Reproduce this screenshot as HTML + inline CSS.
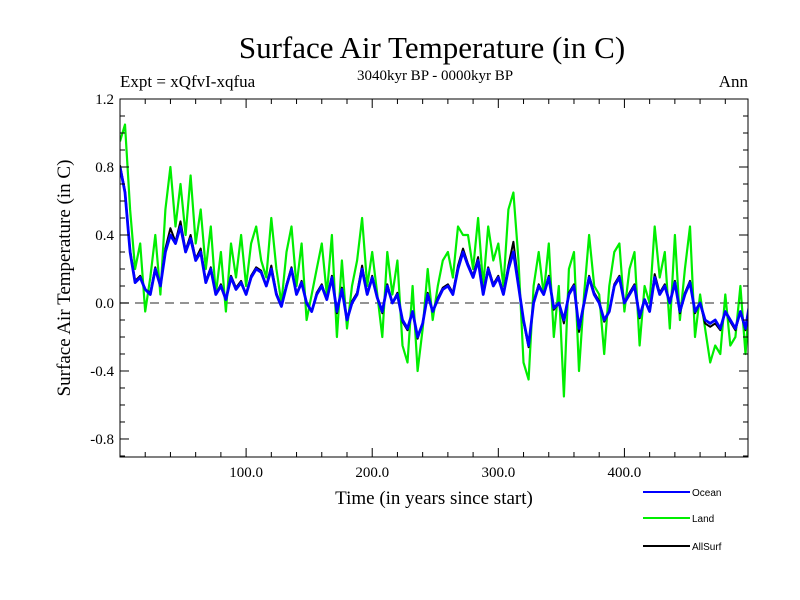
<!DOCTYPE html>
<html><head><meta charset="utf-8"><style>
body{margin:0;background:#fff;}
svg{display:block;}
text{font-family:"Liberation Serif",serif;fill:#000;}
</style></head><body>
<svg id="chart" width="800" height="600">
<text x="432" y="58" font-size="31" text-anchor="middle">Surface Air Temperature (in C)</text>
<text x="120" y="87" font-size="17">Expt = xQfvI-xqfua</text>
<text x="435" y="80" font-size="15" text-anchor="middle">3040kyr BP - 0000kyr BP</text>
<text x="748" y="87" font-size="17" text-anchor="end">Ann</text>
<text transform="translate(70,278) rotate(-90)" font-size="19" text-anchor="middle">Surface Air Temperature (in C)</text>
<text x="434" y="504" font-size="19" text-anchor="middle">Time (in years since start)</text>
<g id="plot"></g>
<g id="axes"></g>
<g id="legend"></g>
</svg>
<script>
const ocean=[0.80,0.65,0.30,0.12,0.15,0.08,
0.05,0.20,0.10,0.30,0.40,0.35,0.45,
0.30,0.38,0.25,0.30,0.12,0.20,
0.05,0.10,0.02,0.15,0.08,0.12,0.05,
0.15,0.20,0.18,0.10,0.20,0.05,-0.02,
0.10,0.20,0.05,0.12,0.00,-0.05,
0.05,0.10,0.02,0.15,-0.05,0.08,
-0.10,0.00,0.05,0.20,0.05,0.15,
0.03,-0.05,0.10,0.00,0.05,-0.10,
-0.15,-0.05,-0.20,-0.12,0.05,-0.05,
0.02,0.08,0.10,0.05,0.20,0.30,
0.22,0.15,0.25,0.05,0.20,0.10,
0.15,0.05,0.20,0.30,0.10,-0.10,
-0.25,0.00,0.10,0.05,0.15,-0.03,
0.00,-0.10,0.05,0.10,-0.15,0.00,
0.15,0.05,0.00,-0.10,-0.05,0.10,
0.15,0.00,0.05,0.10,-0.08,0.02,
-0.05,0.15,0.05,0.10,0.00,0.12,
-0.05,0.05,0.12,-0.05,0.00,-0.10,
-0.12,-0.10,-0.15,-0.05,-0.10,-0.15,
-0.05,-0.15,0.03];
const land=[0.95,1.05,0.55,0.20,0.35,-0.05,
0.15,0.40,0.05,0.55,0.80,0.45,0.70,
0.40,0.75,0.35,0.55,0.20,0.45,
0.05,0.30,-0.05,0.35,0.15,0.40,0.10,
0.35,0.45,0.25,0.15,0.50,0.20,0.00,
0.30,0.45,0.10,0.35,-0.10,0.05,
0.20,0.35,0.05,0.40,-0.20,0.25,
-0.15,0.10,0.25,0.50,0.10,0.30,
0.05,-0.20,0.30,0.05,0.25,-0.25,
-0.35,0.10,-0.40,-0.15,0.20,-0.10,
0.10,0.25,0.30,0.15,0.45,0.40,
0.40,0.20,0.50,0.10,0.45,0.25,
0.35,0.10,0.55,0.65,0.25,-0.35,
-0.45,0.10,0.30,0.05,0.35,-0.20,
0.10,-0.55,0.20,0.30,-0.40,0.05,
0.40,0.10,0.05,-0.30,0.10,0.30,
0.35,-0.05,0.20,0.30,-0.25,0.10,
0.00,0.45,0.15,0.30,-0.15,0.40,
-0.10,0.20,0.45,-0.20,0.05,-0.15,
-0.35,-0.25,-0.30,0.05,-0.25,-0.20,
0.10,-0.30,0.10];
const allsurf=[0.81,0.66,0.31,0.13,0.16,0.08,
0.06,0.21,0.10,0.32,0.44,0.36,0.48,
0.31,0.40,0.26,0.32,0.13,0.21,
0.05,0.11,0.02,0.16,0.09,0.13,0.05,
0.16,0.21,0.19,0.10,0.22,0.06,-0.02,
0.11,0.21,0.05,0.13,0.00,-0.05,
0.06,0.11,0.02,0.16,-0.06,0.09,
-0.10,0.01,0.06,0.22,0.05,0.16,
0.03,-0.06,0.11,0.00,0.06,-0.11,
-0.16,-0.05,-0.21,-0.12,0.06,-0.05,
0.03,0.09,0.11,0.06,0.22,0.32,
0.23,0.16,0.27,0.06,0.21,0.11,
0.16,0.06,0.22,0.36,0.11,-0.11,
-0.26,0.01,0.11,0.05,0.16,-0.04,
0.00,-0.12,0.06,0.11,-0.17,0.00,
0.16,0.06,0.01,-0.11,-0.05,0.11,
0.16,0.00,0.06,0.11,-0.09,0.02,
-0.05,0.17,0.06,0.11,0.00,0.13,
-0.06,0.06,0.13,-0.06,0.00,-0.12,
-0.14,-0.12,-0.16,-0.05,-0.11,-0.16,
-0.05,-0.16,0.03];
const yearStep=4;
const yTicks=[1.2,0.8,0.4,0.0,-0.4,-0.8];
const yTickLabels=["1.2","0.8","0.4","0.0","-0.4","-0.8"];
const xTicks=[100,200,300,400];
const xTickLabels=["100.0","200.0","300.0","400.0"];
const seriesNames=["Ocean","Land","AllSurf"];
const seriesColors=["#0000ff","#00ee00","#000000"];

const X0=120,X1=748,Y0=99,Y1=457;
const xMin=0,xMax=498,yMin=-0.906,yMax=1.2;
const xs=v=>X0+(v-xMin)/(xMax-xMin)*(X1-X0);
const ys=v=>Y1-(v-yMin)/(yMax-yMin)*(Y1-Y0);
const NS="http://www.w3.org/2000/svg";
function mk(tag,attrs,parent){const e=document.createElementNS(NS,tag);for(const k in attrs)e.setAttribute(k,attrs[k]);parent.appendChild(e);return e;}
const plot=document.getElementById('plot'),axes=document.getElementById('axes'),legend=document.getElementById('legend');

const clip=mk('clipPath',{id:'pc'},plot);
mk('rect',{x:X0,y:Y0,width:X1-X0,height:Y1-Y0},clip);

const zl=mk('line',{x1:X0,x2:X1,y1:ys(0),y2:ys(0),stroke:'#555','stroke-width':1.3,'stroke-dasharray':'9,6'},plot);



function drawSeries(arr,color,w,name){
  let d='';
  arr.forEach((v,i)=>{d+=(i?'L':'M')+xs(i*yearStep).toFixed(1)+','+ys(v).toFixed(1);});
  const p=mk('path',{d:d,fill:'none',stroke:color,'stroke-width':w,'stroke-linejoin':'round','clip-path':'url(#pc)'},plot);
  
  
}
drawSeries(land,seriesColors[1],2.2,'land-series');
drawSeries(allsurf,seriesColors[2],2,'allsurf-series');
drawSeries(ocean,seriesColors[0],2.8,'ocean-series');

const frame=mk('rect',{x:X0,y:Y0,width:X1-X0,height:Y1-Y0,fill:'none',stroke:'#000','stroke-width':1},axes);



for(let v=20;v<xMax;v+=20){
  const major=v%100===0,len=major?9:5,x=xs(v);
  mk('line',{x1:x,x2:x,y1:Y1,y2:Y1-len,stroke:'#000'},axes);
  mk('line',{x1:x,x2:x,y1:Y0,y2:Y0+len,stroke:'#000'},axes);
}
for(let k=-9;k<=12;k++){
  const v=k/10,major=(k%4===0),len=major?9:5,y=ys(v);
  mk('line',{x1:X0,x2:X0+len,y1:y,y2:y,stroke:'#000'},axes);
  mk('line',{x1:X1,x2:X1-len,y1:y,y2:y,stroke:'#000'},axes);
}
xTicks.forEach((v,i)=>{
  const t=mk('text',{x:xs(v),y:Y1+20,'font-size':15,'text-anchor':'middle'},axes);
  t.textContent=xTickLabels[i];
  
  
});
yTicks.forEach((v,i)=>{
  const t=mk('text',{x:X0-6,y:ys(v)+5,'font-size':15,'text-anchor':'end'},axes);
  t.textContent=yTickLabels[i];
  
  
});
const legY=[492,518,546];
seriesNames.forEach((n,i)=>{
  const g=mk('g',{},legend);
  
  
  mk('line',{x1:643,x2:690,y1:legY[i],y2:legY[i],stroke:seriesColors[i],'stroke-width':2},g);
  const t=mk('text',{x:692,y:legY[i]+4,'font-size':10,style:'font-family:"Liberation Sans",sans-serif'},g);
  t.textContent=n;
});
</script>
</body></html>
